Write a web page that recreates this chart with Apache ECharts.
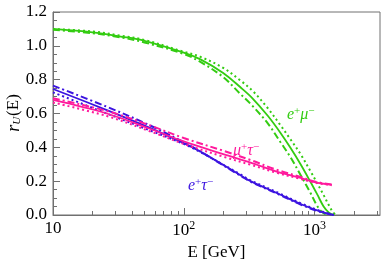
<!DOCTYPE html>
<html><head><meta charset="utf-8">
<script src="https://cdn.jsdelivr.net/npm/echarts@6/dist/echarts.min.js"></script>
<style>html,body{margin:0;padding:0;background:#fff}#c{width:382px;height:267px}</style>
</head><body><div id="c"></div>
<script>
// e+ mu- (green)
const greenE = [10, 20, 33, 50, 100, 134, 200, 271, 335, 440, 549, 650, 781, 931, 1050, 1172, 1280, 1374];
const greenSolid = [1.10, 1.08, 1.055, 1.03, 0.96, 0.92, 0.84, 0.755, 0.69, 0.585, 0.485, 0.40, 0.30, 0.195, 0.12, 0.05, 0.015, 0];
const greenDottedE = [10, 20, 33, 50, 100, 134, 200, 271, 335, 440, 549, 650, 781, 931, 1050, 1172, 1280, 1374, 1450];
const greenDotted = [1.10, 1.085, 1.06, 1.035, 0.965, 0.935, 0.87, 0.795, 0.735, 0.63, 0.53, 0.45, 0.36, 0.258, 0.186, 0.118, 0.06, 0.02, 0];
const greenDashE = [10, 20, 33, 50, 100, 134, 200, 271, 335, 440, 549, 650, 781, 931, 1050, 1172, 1280];
const greenDash = [1.095, 1.075, 1.05, 1.02, 0.952, 0.905, 0.815, 0.715, 0.645, 0.54, 0.43, 0.345, 0.237, 0.13, 0.052, 0.01, 0];
// e+ tau- (blue)
const blueE = [10, 25.8, 55, 100, 134, 271, 324, 549, 781, 1110, 1400];
const blueSolid = [0.745, 0.62, 0.515, 0.425, 0.375, 0.235, 0.20, 0.12, 0.065, 0.02, 0];
const blueDash = [0.765, 0.64, 0.53, 0.43, 0.375, 0.232, 0.197, 0.117, 0.062, 0.018, 0];
const blueDotted = [0.725, 0.60, 0.50, 0.42, 0.372, 0.24, 0.205, 0.125, 0.07, 0.024, 0];
// mu+ tau- (pink)
const pinkE = [10, 25.8, 55, 100, 200, 324, 500, 781, 1000, 1350];
const pinkSolid = [0.68, 0.60, 0.51, 0.435, 0.36, 0.31, 0.26, 0.219, 0.195, 0.178];
const pinkDash = [0.69, 0.615, 0.53, 0.455, 0.38, 0.325, 0.27, 0.225, 0.198, 0.18];
const pinkDotted = [0.665, 0.585, 0.495, 0.42, 0.345, 0.297, 0.252, 0.213, 0.192, 0.176];

const xMajorTicks = [10, 100, 1000];
const xMinorTicks = [20, 30, 40, 50, 60, 70, 80, 90, 200, 300, 400, 500, 600, 700, 800, 900, 2000, 3000];

const GREEN = '#33cc11', BLUE = '#3c14e0', PINK = '#ff1a9c';
const FONT = "'Liberation Serif', 'Times New Roman', 'DejaVu Serif', serif";
const DOT = [2, 3], DASHDOT = [7, 3, 2, 3];

function zip(xs, ys) { return xs.map((x, i) => [x, ys[i]]); }
function line(name, xs, ys, color, type) {
  return { name, type: 'line', xAxisIndex: 0, yAxisIndex: 0, data: zip(xs, ys), showSymbol: false,
    smooth: 0.35, animation: false, silent: true,
    lineStyle: { color, width: type === 'solid' ? 1.8 : 2, type, cap: 'butt' } };
}

const chart = echarts.init(document.getElementById('c'), null, { renderer: 'canvas' });
const axisGray = '#707070';
chart.setOption({
  animation: false,
  textStyle: { fontFamily: FONT },
  grid: { left: 53, top: 12, right: 2, bottom: 52, show: true, borderColor: axisGray, borderWidth: 1, containLabel: false },
  xAxis: [{
    type: 'log', logBase: 10, min: 10, max: 3162, position: 'bottom',
    axisLine: { lineStyle: { color: axisGray } },
    axisTick: { inside: true, length: 7, customValues: xMajorTicks, lineStyle: { color: axisGray } },
    axisLabel: { customValues: xMajorTicks, margin: 5, color: '#000', fontFamily: FONT, fontSize: 17,
      formatter: v => { const p = Math.round(Math.log10(v)); return p === 1 ? '{b|10}' : '{b|10}{s|' + p + '}'; },
      rich: { b: { fontFamily: FONT, fontSize: 17, color: '#000' },
              s: { fontFamily: FONT, fontSize: 12, verticalAlign: 'bottom', padding: [0, 0, 9, 0], color: '#000' } } },
    splitLine: { show: false },
    name: 'E [GeV]', nameLocation: 'middle', nameGap: 27, nameTextStyle: { fontFamily: FONT, fontSize: 17, color: '#000' }
  }, {
    type: 'log', logBase: 10, min: 10, max: 3162, position: 'bottom', offset: 0,
    axisLine: { show: false },
    axisTick: { inside: true, length: 4, customValues: xMinorTicks, lineStyle: { color: axisGray } },
    axisLabel: { show: false }, splitLine: { show: false }
  }],
  yAxis: [{
    type: 'value', min: 0, max: 1.2, interval: 0.2,
    axisLine: { show: true, lineStyle: { color: axisGray } },
    axisTick: { show: true, inside: true, length: 7, lineStyle: { color: axisGray } },
    minorTick: { show: true, splitNumber: 4, length: 4, lineStyle: { color: axisGray } },
    axisLabel: { margin: 6, color: '#000', fontFamily: FONT, fontSize: 17, formatter: v => v.toFixed(1) },
    splitLine: { show: false }
  }],
  graphic: [
    { type: 'text', x: 14, y: 113, rotation: Math.PI / 2,
      style: { text: '{i|r}{sub|U}{n|(E)}', align: 'center', verticalAlign: 'middle',
        rich: { i: { fontFamily: FONT, fontStyle: 'italic', fontSize: 18, fill: '#000' },
                sub: { fontFamily: FONT, fontStyle: 'italic', fontSize: 11, fill: '#000', verticalAlign: 'bottom', padding: [6, 1, 0, 0] },
                n: { fontFamily: FONT, fontSize: 17, fill: '#000' } } } },
    { type: 'text', x: 287, y: 115,
      style: { text: '{m|e}{s|+}{m|μ}{s|−}', verticalAlign: 'middle',
        rich: { m: { fontFamily: FONT, fontStyle: 'italic', fontSize: 16, fill: GREEN }, s: { fontFamily: FONT, fontSize: 11, fill: GREEN, verticalAlign: 'top', padding: [0, 0, 8, 0] } } } },
    { type: 'text', x: 233, y: 151,
      style: { text: '{m|μ}{s|+}{m|τ}{s|−}', verticalAlign: 'middle',
        rich: { m: { fontFamily: FONT, fontStyle: 'italic', fontSize: 16, fill: PINK }, s: { fontFamily: FONT, fontSize: 11, fill: PINK, verticalAlign: 'top', padding: [0, 0, 8, 0] } } } },
    { type: 'text', x: 188, y: 186,
      style: { text: '{m|e}{s|+}{m|τ}{s|−}', verticalAlign: 'middle',
        rich: { m: { fontFamily: FONT, fontStyle: 'italic', fontSize: 16, fill: BLUE }, s: { fontFamily: FONT, fontSize: 11, fill: BLUE, verticalAlign: 'top', padding: [0, 0, 8, 0] } } } }
  ],
  series: [
    line('green solid', greenE, greenSolid, GREEN, 'solid'),
    line('green dotted', greenDottedE, greenDotted, GREEN, DOT),
    line('green dashdot', greenDashE, greenDash, GREEN, DASHDOT),
    line('blue solid', blueE, blueSolid, BLUE, 'solid'),
    line('blue dotted', blueE, blueDotted, BLUE, DOT),
    line('blue dashdot', blueE, blueDash, BLUE, DASHDOT),
    line('pink solid', pinkE, pinkSolid, PINK, 'solid'),
    line('pink dotted', pinkE, pinkDotted, PINK, DOT),
    line('pink dashdot', pinkE, pinkDash, PINK, DASHDOT)
  ]
});
</script></body></html>
